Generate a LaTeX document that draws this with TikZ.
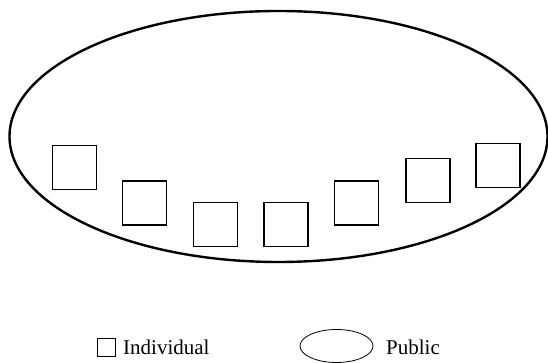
\documentclass[tikz,border=0pt]{standalone}
\usepackage{fontspec}
\setmainfont{Liberation Serif}
\usetikzlibrary{shapes.geometric}
\usetikzlibrary{positioning}

\begin{document}
\begin{tikzpicture}[x=1pt,y=1pt,
	indiv node/.style={rectangle,draw,line width=1.8pt,minimum size=44pt,inner sep=0pt},
	public node/.style={ellipse,draw,line width=2.4pt,inner sep=0pt},
	key node/.style={draw,line width=0.8pt,inner sep=0pt},
	label node/.style={anchor=base west,inner sep=0pt,font=\fontsize{21}{25}\selectfont}]

	\useasboundingbox (0,0) rectangle (548,363);

	% the public
	\node[public node, minimum width=538pt, minimum height=251pt] (pub) at (278.5,226.5) {};

	% individuals
	\node[indiv node] (i1) at (74.5,195.5) {};
	\node[indiv node] (i2) at (144.5,160) {};
	\node[indiv node] (i3) at (215.5,138.5) {};
	\node[indiv node] (i4) at (286,138.5) {};
	\node[indiv node] (i5) at (356.5,160) {};
	\node[indiv node] (i6) at (428,182.5) {};
	\node[indiv node] (i7) at (498,197.5) {};

	% legend
	\node[key node, rectangle, minimum size=18pt] (kindiv) at (106,16) {};
	\node[label node] (lindiv) at (123,8) {Individual};
	\node[key node, ellipse, minimum width=73pt, minimum height=33pt] (kpub) at (336.5,17) {};
	\node[label node] (lpub) at (386,8) {Public};
\end{tikzpicture}
\end{document}
